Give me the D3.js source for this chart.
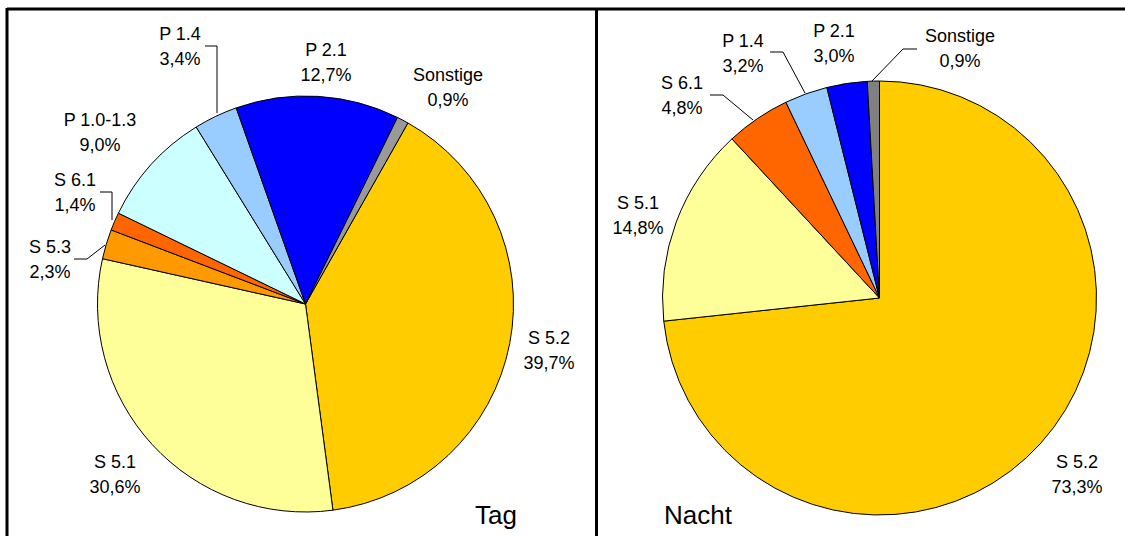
<!DOCTYPE html>
<html><head><meta charset="utf-8">
<script src="https://cdn.jsdelivr.net/npm/d3@7"></script>
<style>body{margin:0;background:#fff}svg{display:block}text{font-family:"Liberation Sans",Arial,sans-serif;fill:#000}</style>
</head><body><svg id="c" width="1125" height="536"></svg>
<script>
// ---- data ----
const tagCategories = ["S 5.2","S 5.1","S 5.3","S 6.1","P 1.0-1.3","P 1.4","P 2.1","Sonstige"];
const tagValues     = [39.7, 30.6, 2.3, 1.4, 9.0, 3.4, 12.7, 0.9];
const nachtCategories = ["S 5.2","S 5.1","S 6.1","P 1.4","P 2.1","Sonstige"];
const nachtValues     = [73.3, 14.8, 4.8, 3.2, 3.0, 0.9];
const panelTitles = ["Tag","Nacht"];

// ---- styles ----
const colors = {"S 5.2":"#FFCC00","S 5.1":"#FFFF99","S 5.3":"#FF9900","S 6.1":"#FF6600",
  "P 1.0-1.3":"#CCFFFF","P 1.4":"#99CCFF","P 2.1":"#0000FF","Sonstige":"#999999"};
const nachtColors = Object.assign({}, colors, {"Sonstige":"#808080"});
const fs = 18;

const svg = d3.select("#c");
// frame
svg.append("line").attr("x1",7).attr("x2",1125).attr("y1",9).attr("y2",9).attr("stroke","#000").attr("stroke-width",3);
svg.append("line").attr("x1",7).attr("x2",7).attr("y1",8).attr("y2",536).attr("stroke","#000").attr("stroke-width",3);
svg.append("line").attr("x1",596.5).attr("x2",596.5).attr("y1",8).attr("y2",536).attr("stroke","#000").attr("stroke-width",3);

const fmt = v => d3.format(".1f")(v).replace(".", ",") + "%";

function drawPie(cats, vals, cols, cx, cy, r, startDeg, labels, leaders, title, titlePos){
  const data = cats.map((c,i)=>({cat:c, value:vals[i]}));
  const start = startDeg*Math.PI/180;
  const pie = d3.pie().value(d=>d.value).sort(null).startAngle(start).endAngle(start+2*Math.PI);
  const arc = d3.arc().innerRadius(0).outerRadius(r);
  const g = svg.append("g").attr("transform",`translate(${cx},${cy})`);
  g.selectAll("path").data(pie(data)).join("path")
    .attr("d",arc).attr("fill",d=>cols[d.data.cat]).attr("stroke","#000").attr("stroke-width",1).attr("stroke-linejoin","round");
  // leaders
  leaders.forEach(pts=>{
    svg.append("polyline").attr("points",pts.map(p=>p.join(",")).join(" "))
      .attr("fill","none").attr("stroke","#000").attr("stroke-width",1);
  });
  data.forEach(d=>{
    const p = labels[d.cat];
    const t = svg.append("text").attr("text-anchor","middle").attr("font-size",fs);
    t.append("tspan").attr("x",p[0]).attr("y",p[1]+fs*0.36).text(d.cat);
    t.append("tspan").attr("x",p[0]).attr("y",p[1]+25+fs*0.36).text(fmt(d.value));
  });
  svg.append("text").attr("x",titlePos[0]).attr("y",titlePos[1]).attr("text-anchor","middle")
    .attr("font-size",26).text(title);
}

drawPie(tagCategories, tagValues, colors, 305.5, 304, 208, 29.5,
  {"S 5.2":[549,338],"S 5.1":[115,462],"S 5.3":[50,247],"S 6.1":[75,180],
   "P 1.0-1.3":[100,120],"P 1.4":[180,34],"P 2.1":[326,50],"Sonstige":[448,75]},
  [[[205,46],[217,46],[217,113]], [[100,192],[112,192],[112,220]], [[74,259],[87,259],[105,245]]],
  panelTitles[0], [496,524]);

drawPie(nachtCategories, nachtValues, nachtColors, 879.5, 298, 217, 0,
  {"S 5.2":[1077,462],"S 5.1":[638,203],"S 6.1":[682,83],"P 1.4":[743,41],
   "P 2.1":[834,31],"Sonstige":[960,36]},
  [[[917,49],[903,49],[872,81]], [[770,52],[783,52],[805,93]], [[710,95],[723,95],[753,120]]],
  panelTitles[1], [698,524]);
</script></body></html>
